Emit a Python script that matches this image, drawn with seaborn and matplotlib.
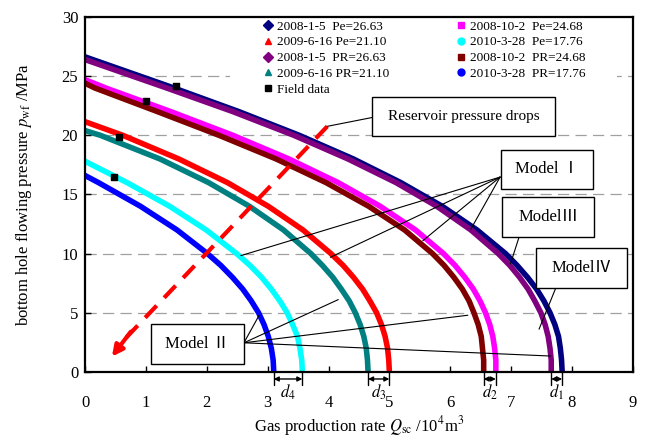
import matplotlib
matplotlib.use("Agg")
import matplotlib.pyplot as plt
from matplotlib.lines import Line2D
from matplotlib.patches import Rectangle
import seaborn as sns

# IPR curves: pwf (MPa) and gas rate (10^4 m3)
p_navy = [26.63, 24, 22, 20, 18, 16, 14, 12, 10, 9, 8, 7, 6, 5, 4, 3, 2, 1, 0]
q_navy = [0.00, 1.46, 2.53, 3.52, 4.41, 5.19, 5.87, 6.44, 6.91, 7.10, 7.27, 7.42, 7.54, 7.64, 7.72, 7.78, 7.81, 7.83, 7.84]
p_purple = [26.4, 24, 22, 20, 18, 16, 14, 12, 10, 9, 8, 7, 6, 5, 4, 3, 2, 1, 0]
q_purple = [0.00, 1.34, 2.43, 3.43, 4.32, 5.11, 5.78, 6.34, 6.79, 6.98, 7.14, 7.28, 7.39, 7.49, 7.56, 7.61, 7.64, 7.66, 7.66]
p_magenta = [24.7, 24, 22, 20, 18, 16, 14, 12, 10, 9, 8, 7, 6, 5, 4, 3, 2, 1, 0]
q_magenta = [0.00, 0.34, 1.41, 2.43, 3.35, 4.16, 4.85, 5.43, 5.89, 6.08, 6.24, 6.38, 6.49, 6.58, 6.65, 6.70, 6.73, 6.75, 6.75]
p_maroon = [24.4, 24, 22, 20, 18, 16, 14, 12, 10, 9, 8, 7, 6, 5, 4, 3, 2, 1, 0]
q_maroon = [0.00, 0.16, 1.19, 2.20, 3.14, 3.96, 4.66, 5.25, 5.71, 5.90, 6.06, 6.20, 6.31, 6.39, 6.46, 6.51, 6.53, 6.55, 6.55]
p_red = [21.15, 20, 18, 16, 14, 12, 10, 9, 8, 7, 6, 5, 4, 3, 2, 1, 0]
q_red = [0.00, 0.62, 1.54, 2.34, 3.01, 3.58, 4.04, 4.24, 4.41, 4.56, 4.68, 4.79, 4.87, 4.93, 4.97, 4.99, 5.00]
p_teal = [20.4, 20, 18, 16, 14, 12, 10, 9, 8, 7, 6, 5, 4, 3, 2, 1, 0]
q_teal = [0.00, 0.25, 1.23, 2.03, 2.70, 3.26, 3.71, 3.90, 4.07, 4.21, 4.34, 4.44, 4.52, 4.58, 4.62, 4.64, 4.65]
p_cyan = [17.8, 16, 14, 12, 10, 9, 8, 7, 6, 5, 4, 3, 2, 1, 0]
q_cyan = [0.00, 0.69, 1.39, 1.99, 2.49, 2.71, 2.90, 3.06, 3.20, 3.32, 3.41, 3.49, 3.53, 3.56, 3.57]
p_blue = [16.6, 16, 14, 12, 10, 9, 8, 7, 6, 5, 4, 3, 2, 1, 0]
q_blue = [0.00, 0.22, 0.91, 1.51, 2.01, 2.23, 2.42, 2.59, 2.73, 2.85, 2.94, 3.01, 3.06, 3.09, 3.10]

field_q = [0.48, 0.55, 1.0, 1.5]
field_p = [16.5, 19.9, 22.9, 24.2]

curves = [
    ("2008-1-5  Pe=26.63", q_navy, p_navy, "#000080", "D"),
    ("2009-6-16 Pe=21.10", q_red, p_red, "#ff0000", "^"),
    ("2008-1-5  PR=26.63", q_purple, p_purple, "#800080", "D"),
    ("2009-6-16 PR=21.10", q_teal, p_teal, "#008080", "^"),
    ("2008-10-2  Pe=24.68", q_magenta, p_magenta, "#ff00ff", "s"),
    ("2010-3-28  Pe=17.76", q_cyan, p_cyan, "#00ffff", "o"),
    ("2008-10-2  PR=24.68", q_maroon, p_maroon, "#800000", "s"),
    ("2010-3-28  PR=17.76", q_blue, p_blue, "#0000ff", "o"),
]

sns.set_theme(style="ticks", rc={"axes.edgecolor": "black", "text.color": "black",
                                 "xtick.color": "black", "ytick.color": "black",
                                 "axes.labelcolor": "black"})
plt.rcParams["font.family"] = ["Liberation Serif", "Noto Sans CJK SC"]
plt.rcParams["mathtext.fontset"] = "stix"

fig = plt.figure(figsize=(6.45, 4.37), dpi=100)
ax = fig.add_axes([0.132, 0.149, 0.849, 0.812])

for label, q, p, col, mk in curves:
    sns.lineplot(x=q, y=p, sort=False, estimator=None, color=col, lw=4, ax=ax,
                 zorder=2, solid_joinstyle="round")
ax.scatter(field_q, field_p, marker="s", s=24, color="black", zorder=4)

ax.set_xlim(0, 9)
ax.set_ylim(0, 30)
ax.set_xticks(range(0, 10))
ax.set_yticks(range(0, 31, 5))
ax.set_axisbelow(True)
for y in range(5, 30, 5):
    ax.axhline(y, color="#a0a0a0", lw=0.9, ls=(0, (9, 5)), zorder=0.5)
for s in ax.spines.values():
    s.set_linewidth(1.6)
    s.set_zorder(8)
ax.tick_params(direction="in", length=4, width=1, labelsize=12)
ax.tick_params(axis="x", pad=17)
ax.tick_params(axis="y", pad=5)
ax.set_ylabel(r"bottom hole flowing pressure $p_{\mathrm{wf}}$ /MPa", fontsize=12, labelpad=20)
ax.set_xlabel(r"Gas production rate $Q_{\mathrm{sc}}$ /10$^{4}$m$^{3}$", fontsize=12, labelpad=2)

# white patch behind legend
ax.add_patch(Rectangle((0.265, 0.78), 0.706, 0.22, transform=ax.transAxes,
                       facecolor="white", edgecolor="none", zorder=1))
order = [0, 1, 2, 3, None, 4, 5, 6, 7]
handles, labels = [], []
for i in order:
    if i is None:
        handles.append(Line2D([], [], ls="none", marker="s", color="black", markersize=5))
        labels.append("Field data")
    else:
        c = curves[i]
        handles.append(Line2D([], [], ls="none", marker=c[4], color=c[3], markersize=5))
        labels.append(c[0])
ax.legend(handles, labels, ncol=2, loc="upper left", bbox_to_anchor=(0.316, 1.0),
          frameon=False, fontsize=9.5, handlelength=1.0, handletextpad=0.15,
          columnspacing=5.0, labelspacing=0.27, borderpad=0, borderaxespad=0.25)


def box(x0, x1, y0, y1, text, fs=12):
    ax.add_patch(Rectangle((x0, y0), x1 - x0, y1 - y0, facecolor="white",
                           edgecolor="black", lw=1, zorder=6))
    ax.text((x0 + x1) / 2, (y0 + y1) / 2, text, ha="center", va="center",
            fontsize=fs, zorder=7)


def leader(x0, y0, x1, y1):
    ax.plot([x0, x1], [y0, y1], color="black", lw=0.8, zorder=5)


# reservoir pressure arrow
ax.plot([3.98, 0.62], [20.76, 2.6], color="red", lw=3, ls=(0, (4, 2.6)), zorder=5)
ax.annotate("", xy=(0.44, 1.29), xytext=(0.75, 3.4),
            arrowprops=dict(arrowstyle="-|>", color="red", lw=3, mutation_scale=16,
                            shrinkA=0, shrinkB=0), zorder=5)
leader(3.98, 20.76, 4.71, 21.5)
box(4.71, 7.73, 19.92, 23.28, "Reservoir pressure drops", fs=11)

# model labels
for tx, ty in [(6.34, 12.08), (5.55, 11.09), (4.03, 9.69), (2.56, 9.83)]:
    leader(6.82, 16.47, tx, ty)
box(6.83, 8.35, 15.44, 18.8, "Model Ⅰ")
leader(7.13, 11.37, 6.99, 9.13)
box(6.85, 8.37, 11.37, 14.79, "ModelⅢ")
leader(7.73, 7.03, 7.46, 3.61)
box(7.41, 8.91, 7.12, 10.46, "ModelⅣ")
for tx, ty in [(2.86, 4.79), (4.16, 6.11), (6.29, 4.79), (7.65, 1.34)]:
    leader(2.61, 2.46, tx, ty)
box(1.08, 2.61, 0.67, 4.09, "Model Ⅱ")

# d markers under the axis between curve ends
pairs = [(q_blue, q_cyan, "$d_4$"), (q_teal, q_red, "$d_3$"),
         (q_maroon, q_magenta, "$d_2$"), (q_purple, q_navy, "$d_1$")]
for qa, qb, lab in pairs:
    a, b = qa[-1], qb[-1]
    for x in (a, b):
        ax.plot([x, x], [0, -1.1], color="black", lw=1, clip_on=False, zorder=5)
    ax.annotate("", xy=(a, -0.6), xytext=(b, -0.6), annotation_clip=False,
                arrowprops=dict(arrowstyle="<|-|>", color="black", lw=1,
                                mutation_scale=7, shrinkA=0, shrinkB=0))
    ax.text((a + b) / 2, -1.75, lab, ha="center", va="center", fontsize=12,
            clip_on=False)

fig.savefig("out.png", dpi=100)
